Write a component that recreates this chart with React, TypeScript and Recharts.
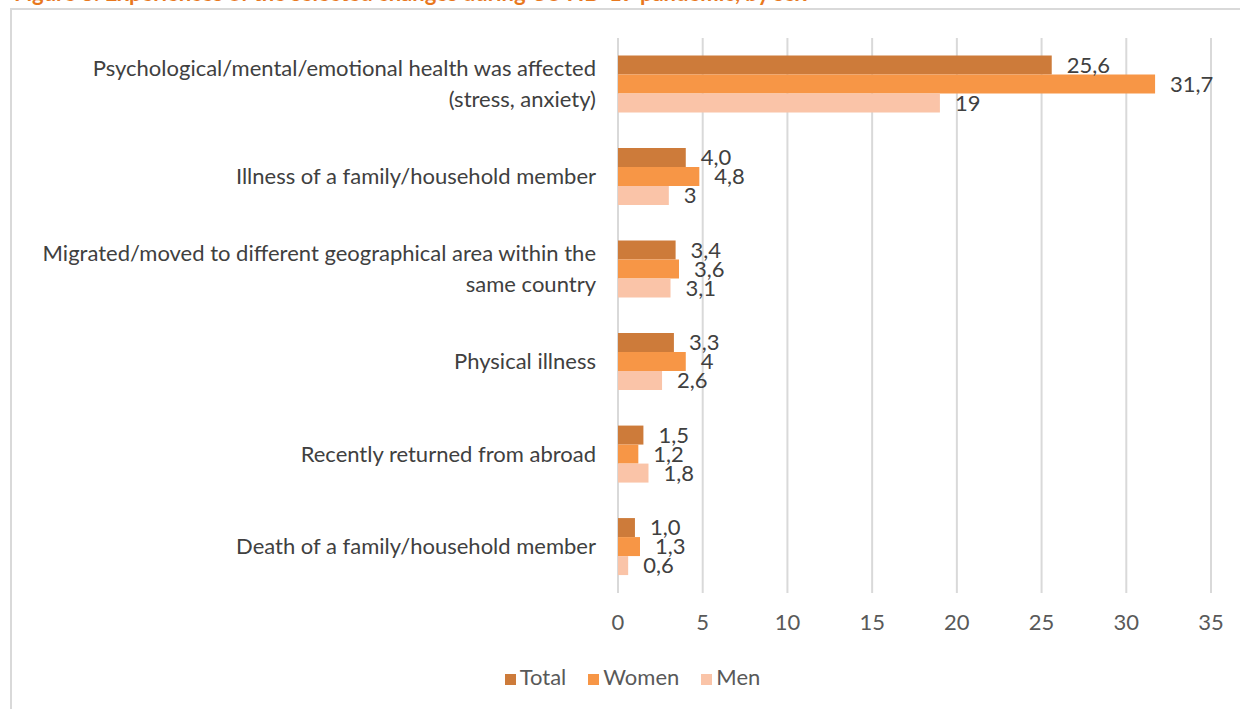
import React from 'react';
import { BarChart, Bar, XAxis, YAxis, CartesianGrid, Legend, LabelList } from 'recharts';

const categories = [
  'Psychological/mental/emotional health was affected (stress, anxiety)',
  'Illness of a family/household member',
  'Migrated/moved to different geographical area within the same country',
  'Physical illness',
  'Recently returned from abroad',
  'Death of a family/household member',
];
const totalValues = [25.6, 4.0, 3.4, 3.3, 1.5, 1.0];
const womenValues = [31.7, 4.8, 3.6, 4, 1.2, 1.3];
const menValues = [19, 3, 3.1, 2.6, 1.8, 0.6];
const seriesNames = ['Total', 'Women', 'Men'];
const xTicks = [0, 5, 10, 15, 20, 25, 30, 35];
const title = 'Figure 8: Experiences of the selected changes during COVID-19 pandemic, by sex';

const data = categories.map((name, i) => ({
  name,
  total: totalValues[i],
  women: womenValues[i],
  men: menValues[i],
}));

const FONT = 'Lato, "Open Sans", sans-serif';
const TEXT = '#404040';

// simple word wrap on character count
const wrap = (s: string, max: number) => {
  const out: string[] = [];
  let line = '';
  s.split(' ').forEach((w) => {
    const next = line ? line + ' ' + w : w;
    if (next.length > max && line) {
      out.push(line);
      line = w;
    } else {
      line = next;
    }
  });
  if (line) out.push(line);
  return out;
};

const CategoryTick = (props: any) => {
  const { x, y, payload } = props;
  const lines = wrap(payload.value, 57);
  const lh = 31;
  const startY = y - ((lines.length - 1) * lh) / 2;
  return (
    <g>
      {lines.map((l, i) => (
        <text
          key={i}
          x={x}
          y={startY + i * lh}
          dy="0.35em"
          textAnchor="end"
          fill={TEXT}
          fontSize={22}
          fontFamily={FONT}
        >
          {l}
        </text>
      ))}
    </g>
  );
};

const fmtTotal = (v: any) => Number(v).toFixed(1).replace('.', ',');
const fmtPlain = (v: any) => String(v).replace('.', ',');

const labelStyle = { fill: TEXT, fontSize: 22, fontFamily: FONT };

export default function App() {
  return (
    <div style={{ position: 'absolute', left: 0, top: 0, width: 1240, height: 709, background: '#fff', overflow: 'hidden' }}>
      <svg width={1240} height={12} style={{ position: 'absolute', left: 0, top: 0 }}>
        <text x={14} y={1} fill="#E8781E" fontSize={22} fontWeight="bold" fontFamily={FONT}>
          {title}
        </text>
      </svg>
      <div
        style={{
          position: 'absolute',
          left: 10,
          top: 8,
          width: 1240,
          height: 720,
          border: '2px solid #d9d9d9',
          boxSizing: 'border-box',
        }}
      />
      <div style={{ position: 'absolute', left: 0, top: 0 }}>
        <BarChart
          width={1240}
          height={709}
          data={data}
          layout="vertical"
          margin={{ top: 38, right: 29, left: 10, bottom: 16 }}
          barCategoryGap="19%"
          barGap={0}
        >
          <CartesianGrid horizontal={false} stroke="#d9d9d9" strokeWidth={2} />
          <XAxis
            type="number"
            domain={[0, 35]}
            ticks={xTicks}
            axisLine={false}
            tickLine={false}
            tickSize={0}
            tickMargin={21}
            height={70}
            tick={{ fill: '#595959', fontSize: 22, fontFamily: FONT }}
          />
          <YAxis
            type="category"
            dataKey="name"
            width={608}
            axisLine={false}
            tickLine={false}
            tickSize={0}
            tickMargin={22}
            tick={<CategoryTick />}
            interval={0}
          />
          <Legend
            verticalAlign="bottom"
            iconType="square"
            iconSize={11}
            height={30}
            itemSorter={(item: any) => seriesNames.indexOf(item.value)}
            wrapperStyle={{ fontFamily: FONT, fontSize: 22, left: 43 }}
            formatter={(value: string) => <span style={{ color: '#595959', marginRight: 12 }}>{value}</span>}
          />
          <Bar dataKey="total" name="Total" fill="#CD7B3A" isAnimationActive={false}>
            <LabelList dataKey="total" position="right" offset={15} formatter={fmtTotal} style={labelStyle} />
          </Bar>
          <Bar dataKey="women" name="Women" fill="#F79646" isAnimationActive={false}>
            <LabelList dataKey="women" position="right" offset={15} formatter={fmtPlain} style={labelStyle} />
          </Bar>
          <Bar dataKey="men" name="Men" fill="#FAC4A8" isAnimationActive={false}>
            <LabelList dataKey="men" position="right" offset={15} formatter={fmtPlain} style={labelStyle} />
          </Bar>
        </BarChart>
      </div>
    </div>
  );
}
